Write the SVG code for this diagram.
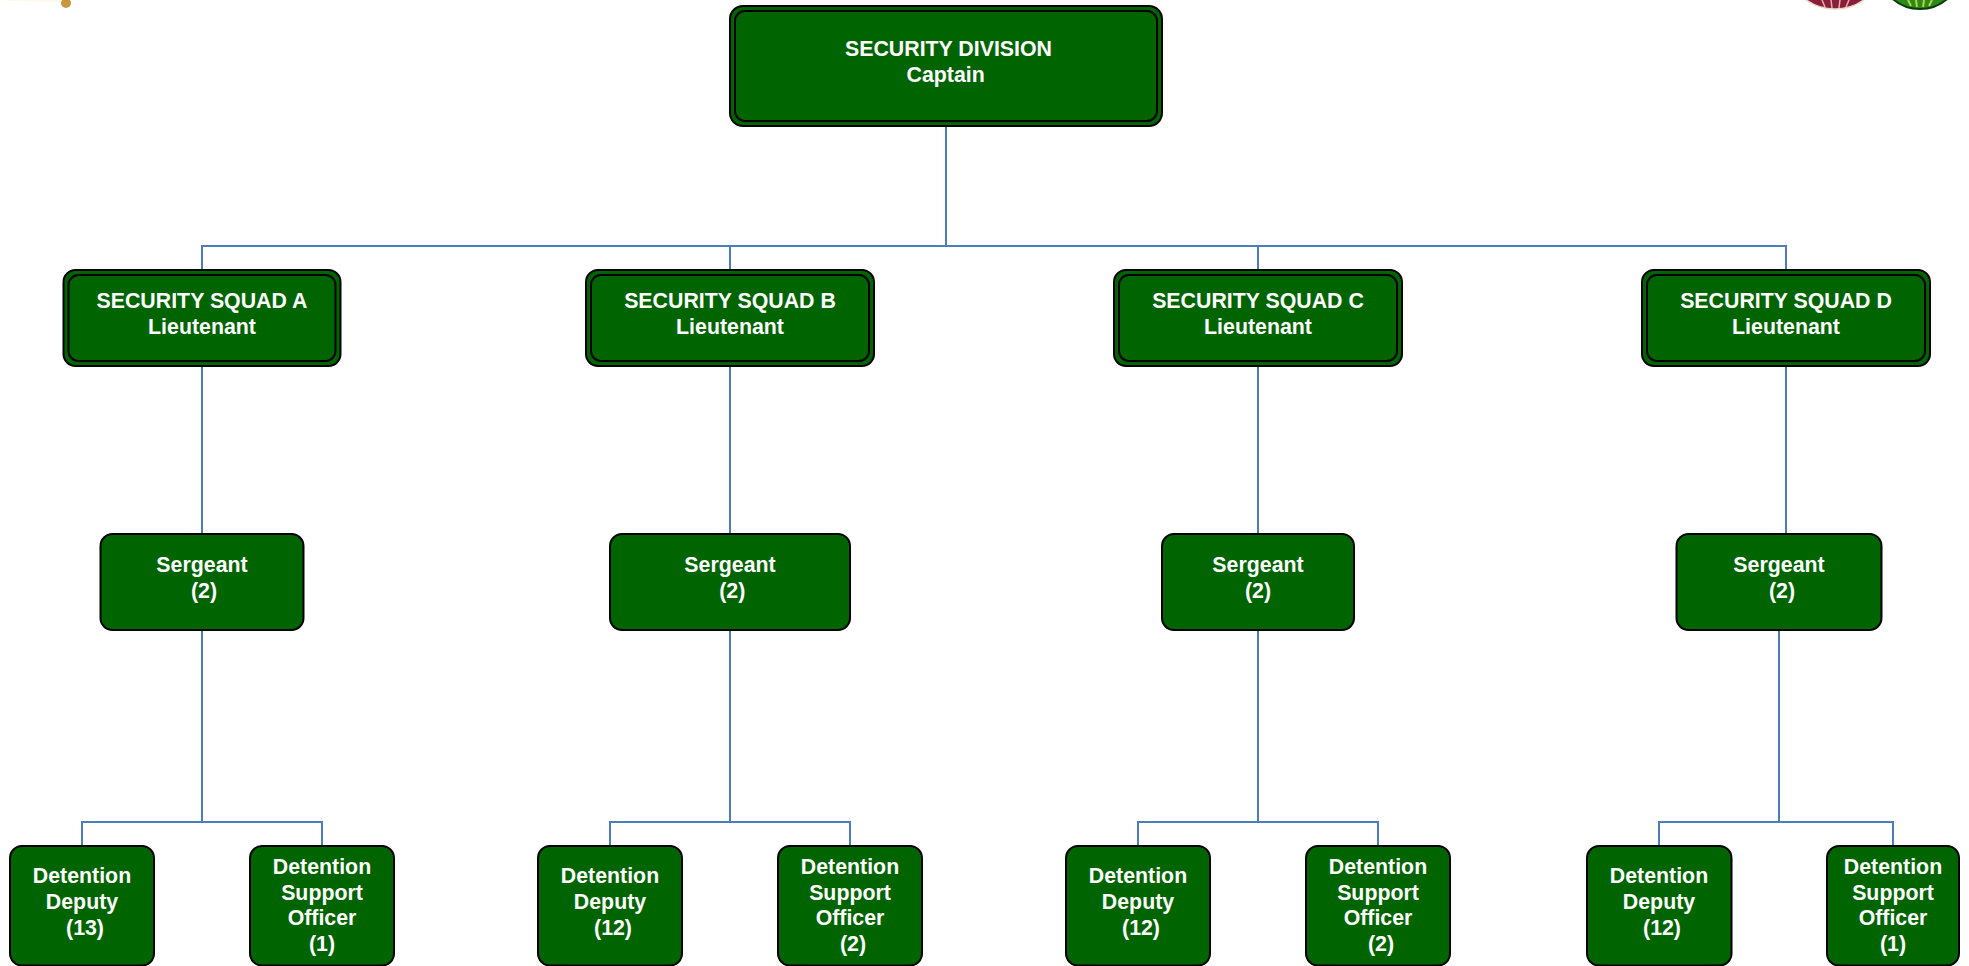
<svg xmlns="http://www.w3.org/2000/svg" width="1969" height="966" viewBox="0 0 1969 966">
<style>
.n{fill:#006400;stroke:#000;stroke-width:2}
.c{fill:none;stroke:#4a7ebb;stroke-width:2}
text{font-family:"Liberation Sans",Arial,sans-serif;font-size:21.33px;font-weight:700;fill:#fff;text-anchor:middle}
</style>
<rect width="1969" height="966" fill="#fff"/>
<g id="decor">
<path d="M0 0H60V2L20 1Z" fill="#fdf8e8"/>
<circle cx="66" cy="3" r="5" fill="#c9983f"/>
<circle cx="1835" cy="-41" r="50" fill="#8a1c3c" stroke="#e8d8c0" stroke-width="1.500"/>
<g stroke="#e3b0a8" stroke-width="1.500"><path d="M1822 0 1825 7M1831 0 1832 8M1840 0 1839 8M1849 0 1846 7"/></g>
<circle cx="1920" cy="-33" r="42" fill="#2c8a1c" stroke="#0c3a10" stroke-width="2"/>
<g stroke="#b8d040" stroke-width="2"><path d="M1908 0 1911 6M1916 0 1917 7M1924 0 1923 7M1932 0 1929 6"/></g>
</g>
<g id="connectors" class="c">
<path class="c" d="M946 126V246M202 270V246H1786V270M730 246V270M1258 246V270"/>
<path class="c" d="M202 366V534M730 366V534M1258 366V534M1786 366V534H1779"/>
<path class="c" d="M202 630V822M82 846V822H322V846"/>
<path class="c" d="M730 630V822M610 846V822H850V846"/>
<path class="c" d="M1258 630V822M1138 846V822H1378V846"/>
<path class="c" d="M1779 630V822M1659 846V822H1893V846"/>
</g>
<g id="division"><rect class="n" x="730" y="6" width="432" height="120" rx="13"/><rect class="n" x="735" y="11" width="422" height="110" rx="10"/><text x="948.500" y="56">SECURITY DIVISION</text><text x="945.700" y="82">Captain</text></g>
<g id="squad-a"><rect class="n" x="63.500" y="270" width="277" height="96" rx="12"/><rect class="n" x="68.500" y="275" width="267" height="86" rx="10"/><text x="202" y="308">SECURITY SQUAD A</text><text x="202" y="334">Lieutenant</text></g>
<g id="squad-b"><rect class="n" x="586" y="270" width="288" height="96" rx="12"/><rect class="n" x="591" y="275" width="278" height="86" rx="10"/><text x="730" y="308">SECURITY SQUAD B</text><text x="730" y="334">Lieutenant</text></g>
<g id="squad-c"><rect class="n" x="1114" y="270" width="288" height="96" rx="12"/><rect class="n" x="1119" y="275" width="278" height="86" rx="10"/><text x="1258" y="308">SECURITY SQUAD C</text><text x="1258" y="334">Lieutenant</text></g>
<g id="squad-d"><rect class="n" x="1642" y="270" width="288" height="96" rx="12"/><rect class="n" x="1647" y="275" width="278" height="86" rx="10"/><text x="1786" y="308">SECURITY SQUAD D</text><text x="1786" y="334">Lieutenant</text></g>
<g id="sergeant-a"><rect class="n" x="100.500" y="534" width="203" height="96" rx="12"/><text x="202" y="572">Sergeant</text><text x="204" y="598">(2)</text></g>
<g id="sergeant-b"><rect class="n" x="610" y="534" width="240" height="96" rx="12"/><text x="730" y="572">Sergeant</text><text x="732.300" y="598">(2)</text></g>
<g id="sergeant-c"><rect class="n" x="1162" y="534" width="192" height="96" rx="12"/><text x="1258" y="572">Sergeant</text><text x="1258" y="598">(2)</text></g>
<g id="sergeant-d"><rect class="n" x="1676.500" y="534" width="205" height="96" rx="12"/><text x="1779" y="572">Sergeant</text><text x="1782" y="598">(2)</text></g>
<g id="deputy-a"><rect class="n" x="10" y="846" width="144" height="119.500" rx="12"/><text x="82" y="883">Detention</text><text x="82" y="909">Deputy</text><text x="85" y="935">(13)</text></g>
<g id="officer-a"><rect class="n" x="250" y="846" width="144" height="119.500" rx="12"/><text x="322" y="874">Detention</text><text x="322" y="900">Support</text><text x="322" y="925">Officer</text><text x="322" y="951">(1)</text></g>
<g id="deputy-b"><rect class="n" x="538" y="846" width="144" height="119.500" rx="12"/><text x="610" y="883">Detention</text><text x="610" y="909">Deputy</text><text x="613" y="935">(12)</text></g>
<g id="officer-b"><rect class="n" x="778" y="846" width="144" height="119.500" rx="12"/><text x="850" y="874">Detention</text><text x="850" y="900">Support</text><text x="850" y="925">Officer</text><text x="853" y="951">(2)</text></g>
<g id="deputy-c"><rect class="n" x="1066" y="846" width="144" height="119.500" rx="12"/><text x="1138" y="883">Detention</text><text x="1138" y="909">Deputy</text><text x="1141" y="935">(12)</text></g>
<g id="officer-c"><rect class="n" x="1306" y="846" width="144" height="119.500" rx="12"/><text x="1378" y="874">Detention</text><text x="1378" y="900">Support</text><text x="1378" y="925">Officer</text><text x="1381" y="951">(2)</text></g>
<g id="deputy-d"><rect class="n" x="1587" y="846" width="144.500" height="119.500" rx="12"/><text x="1659" y="883">Detention</text><text x="1659" y="909">Deputy</text><text x="1662" y="935">(12)</text></g>
<g id="officer-d"><rect class="n" x="1827" y="846" width="132" height="119.500" rx="12"/><text x="1893" y="874">Detention</text><text x="1893" y="900">Support</text><text x="1893" y="925">Officer</text><text x="1893" y="951">(1)</text></g>
</svg>
